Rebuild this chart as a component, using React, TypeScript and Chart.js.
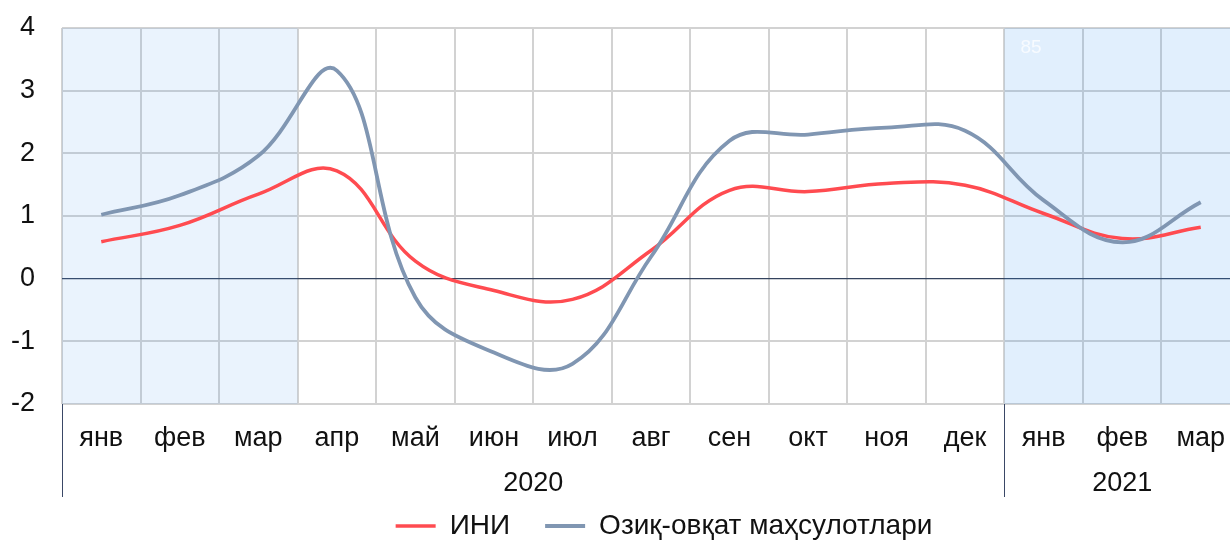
import React, { useEffect, useRef } from "react";
import { Chart, registerables } from "chart.js";

Chart.register(...registerables);

const months = ["янв", "фев", "мар", "апр", "май", "июн", "июл", "авг", "сен", "окт", "ноя", "дек", "янв", "фев", "мар"];
const years = ["2020", "2021"];
const yearStart = [0, 12];
const yearEnd = [11, 14];
const seriesLabels = ["ИНИ", "Озиқ-овқат маҳсулотлари"];
const ini = [0.59, 0.85, 1.35, 1.72, 0.28, -0.19, -0.33, 0.45, 1.41, 1.39, 1.52, 1.49, 1.04, 0.64, 0.82];
const food = [1.02, 1.33, 1.96, 3.32, -0.3, -1.18, -1.36, 0.35, 2.2, 2.3, 2.41, 2.36, 1.25, 0.58, 1.22];
const shadedFrom = [0, 12];
const shadedTo = [2, 14];
const strayLabel = "85";
const yMin = -2;
const yMax = 4;

const FONT = "'Liberation Sans', Arial, sans-serif";
const TEXT = "#111111";

const decor = {
  id: "decor",
  afterLayout(chart: any) {
    const lg = chart.legend;
    if (lg) {
      lg.left += 44;
      lg.right += 44;
      lg.top += 10;
      lg.bottom += 10;
    }
  },
  beforeDatasetsDraw(chart: any) {
    const { ctx, chartArea } = chart;
    const x = chart.scales.x;
    const half = (x.getPixelForValue(1) - x.getPixelForValue(0)) / 2;
    const fills = ["rgba(80,155,238,0.12)", "rgba(55,148,242,0.15)"];
    ctx.save();
    for (let i = 0; i < shadedFrom.length; i++) {
      const l = x.getPixelForValue(shadedFrom[i]) - half;
      const r = x.getPixelForValue(shadedTo[i]) + half;
      ctx.fillStyle = fills[i];
      ctx.fillRect(l, chartArea.top, r - l, chartArea.bottom - chartArea.top);
    }
    ctx.restore();
  },
  afterDraw(chart: any) {
    const { ctx, chartArea } = chart;
    const x = chart.scales.x;
    const half = (x.getPixelForValue(1) - x.getPixelForValue(0)) / 2;
    ctx.save();
    ctx.font = `27px ${FONT}`;
    ctx.fillStyle = TEXT;
    ctx.textAlign = "center";
    ctx.textBaseline = "middle";
    ctx.strokeStyle = "#3a4866";
    ctx.lineWidth = 1;
    for (let i = 0; i < years.length; i++) {
      const a = x.getPixelForValue(yearStart[i]);
      const b = x.getPixelForValue(yearEnd[i]);
      ctx.fillText(years[i], (a + b) / 2, 484);
      const sx = Math.round(a - half) + 0.5;
      ctx.beginPath();
      ctx.moveTo(sx, chartArea.bottom);
      ctx.lineTo(sx, 497);
      ctx.stroke();
    }
    // faint stray label in the shaded block
    ctx.font = `19px ${FONT}`;
    ctx.fillStyle = "rgba(250,252,255,0.9)";
    ctx.textAlign = "left";
    ctx.fillText(strayLabel, x.getPixelForValue(shadedFrom[1]) - half + 16, 48);
    ctx.restore();
  },
};

export default function App() {
  const ref = useRef<HTMLCanvasElement | null>(null);
  useEffect(() => {
    if (!ref.current) return;
    const chart = new Chart(ref.current, {
      type: "line",
      data: {
        labels: months,
        datasets: [
          {
            label: seriesLabels[0],
            data: ini,
            borderColor: "#FF4B50",
            backgroundColor: "#FF4B50",
            borderWidth: 3.5,
            pointRadius: 0,
            tension: 0.4,
            order: 1,
          },
          {
            label: seriesLabels[1],
            data: food,
            borderColor: "#8096B2",
            backgroundColor: "#8096B2",
            borderWidth: 3.8,
            pointRadius: 0,
            tension: 0.4,
            order: 0,
          },
        ],
      },
      options: {
        responsive: false,
        animation: false,
        devicePixelRatio: 1,
        layout: { autoPadding: false, padding: { top: 28, right: 20, left: 0, bottom: 0 } },
        plugins: {
          tooltip: { enabled: false },
          legend: {
            position: "bottom",
            labels: {
              usePointStyle: true,
              pointStyle: "line",
              pointStyleWidth: 40,
              padding: 35,
              color: TEXT,
              font: { family: FONT, size: 28 },
              sort: (a: any, b: any) => a.datasetIndex - b.datasetIndex,
            },
          },
        },
        scales: {
          x: {
            offset: true,
            grid: {
              offset: true,
              drawTicks: false,
              color: "#d2d2d2",
              lineWidth: 2,
            },
            border: { display: false },
            ticks: {
              color: TEXT,
              font: { family: FONT, size: 27 },
              padding: 18,
              maxRotation: 0,
              autoSkip: false,
            },
            afterFit: (s: any) => {
              s.height = 63;
              s.paddingLeft = 0;
              s.paddingRight = 0;
              s.paddingTop = 0;
              s.paddingBottom = 0;
            },
          },
          y: {
            min: yMin,
            max: yMax,
            grid: {
              drawTicks: false,
              color: (c: any) => (c.tick && c.tick.value === 0 ? "#34435e" : "#d2d2d2"),
              lineWidth: (c: any) => (c.tick && c.tick.value === 0 ? 1.2 : 2),
            },
            border: { display: false },
            ticks: {
              stepSize: 1,
              color: TEXT,
              font: { family: FONT, size: 27 },
              padding: 27,
            },
            afterFit: (s: any) => {
              s.width = 62;
              s.paddingTop = 0;
              s.paddingBottom = 0;
              s.paddingLeft = 0;
              s.paddingRight = 0;
            },
          },
        },
      },
      plugins: [decor],
    });
    return () => chart.destroy();
  }, []);
  return (
    <div style={{ position: "fixed", left: 0, top: 0, width: 1230, height: 540, overflow: "hidden", background: "#fff" }}>
      <canvas ref={ref} width={1260} height={540} style={{ display: "block" }} />
    </div>
  );
}
